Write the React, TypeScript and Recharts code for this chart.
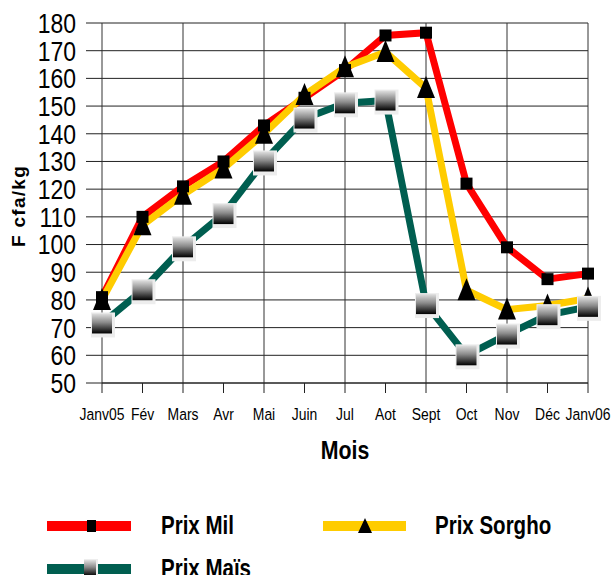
import React from 'react';
import { LineChart, Line, XAxis, YAxis, CartesianGrid, Legend, ReferenceLine } from 'recharts';

const months = ['Janv05', 'Fév', 'Mars', 'Avr', 'Mai', 'Juin', 'Jul', 'Aot', 'Sept', 'Oct', 'Nov', 'Déc', 'Janv06'];
const prixMil = [81, 110, 121, 130, 143, 153, 163, 175.5, 176.5, 122, 99, 87.5, 89.5];
const prixSorgho = [80, 107, 118, 127.5, 140, 154, 164, 169.5, 156.5, 83.5, 76.5, 78, 80.5];
const prixMais = [71.5, 83.5, 99, 111, 130, 145.5, 151, 152, 78.5, 60, 67.5, 74.5, 77.5];
const yTicks = [50, 60, 70, 80, 90, 100, 110, 120, 130, 140, 150, 160, 170, 180];
const seriesNames = ['Prix Mil', 'Prix Sorgho', 'Prix Maïs'];

const data = months.map((m, i) => ({
  mois: m,
  mil: prixMil[i],
  sorgho: prixSorgho[i],
  mais: prixMais[i],
}));

const RED = '#FF0000';
const YELLOW = '#FFCC00';
const GREEN = '#005E50';
const SANS = "'Liberation Sans', Arial, sans-serif";
const SQ = 0.82;

const CondText = ({ x, y, anchor, size, bold, children, dy }: any) => (
  <g transform={`translate(${x},${y})`}>
    <text
      x={0}
      y={0}
      dy={dy}
      transform={`scale(${SQ},1)`}
      textAnchor={anchor}
      fontFamily={SANS}
      fontSize={size}
      fontWeight={bold ? 'bold' : 'normal'}
      fill="#000"
    >
      {children}
    </text>
  </g>
);

const XTick = (p: any) => (
  <CondText x={p.x} y={p.y} anchor="middle" size={17} dy="0.71em">{p.payload.value}</CondText>
);

const YTick = (p: any) => (
  <CondText x={p.x} y={p.y} anchor="end" size={28} dy="0.355em">{p.payload.value}</CondText>
);

const MilDot = (p: any) => {
  if (p.cx == null || p.cy == null) return null;
  return <rect x={p.cx - 6} y={p.cy - 6} width={12} height={12} fill="#000" />;
};

const SorghoDot = (p: any) => {
  if (p.cx == null || p.cy == null) return null;
  const { cx, cy } = p;
  return <polygon points={`${cx},${cy - 12} ${cx - 9},${cy + 10} ${cx + 9},${cy + 10}`} fill="#000" />;
};

const MaisDot = (p: any) => {
  if (p.cx == null || p.cy == null) return null;
  const { cx, cy } = p;
  return (
    <g>
      <rect x={cx - 11} y={cy - 11} width={24} height={25} fill="#EDEDED" />
      <rect x={cx - 10} y={cy - 10} width={20} height={20} fill="url(#maisGrad)" />
    </g>
  );
};

const LegendContent = () => (
  <svg width={615} height={95} style={{ display: 'block', overflow: 'visible' }}>
    <line x1={47} y1={46} x2={131} y2={46} stroke={RED} strokeWidth={10} />
    <rect x={87} y={40} width={9} height={12} fill="#000" />
    <CondText x={161} y={54} anchor="start" size={25} bold>{seriesNames[0]}</CondText>
    <line x1={323} y1={46} x2={406} y2={46} stroke={YELLOW} strokeWidth={10} />
    <polygon points="365,38 358,53 372,53" fill="#000" />
    <CondText x={435} y={54} anchor="start" size={25} bold>{seriesNames[1]}</CondText>
    <line x1={47} y1={89} x2={131} y2={89} stroke={GREEN} strokeWidth={10} />
    <rect x={84} y={79} width={14} height={18} fill="#EDEDED" />
    <rect x={84} y={80} width={12} height={16} fill="url(#maisGrad)" />
    <CondText x={161} y={97} anchor="start" size={25} bold>{seriesNames[2]}</CondText>
  </svg>
);

export default function App() {
  return (
    <div style={{ position: 'absolute', left: 0, top: 0, width: 615, height: 575, background: '#fff' }}>
      <LineChart width={615} height={575} data={data} margin={{ top: 23, right: 27, bottom: 122, left: 0 }}>
        <defs>
          <linearGradient id="maisGrad" x1="0" y1="0" x2="0" y2="1">
            <stop offset="0%" stopColor="#E0E0E0" />
            <stop offset="45%" stopColor="#8A8A8A" />
            <stop offset="100%" stopColor="#000000" />
          </linearGradient>
        </defs>
        <CartesianGrid vertical={false} stroke="#222" strokeWidth={1} />
        {months.filter((_, i) => i % 2 === 0).map((m) => (
          <ReferenceLine key={m} x={m} stroke="#333" strokeWidth={1} ifOverflow="visible" />
        ))}
        <XAxis
          dataKey="mois"
          interval={0}
          height={70}
          tickSize={10}
          tickMargin={15}
          axisLine={{ stroke: '#222' }}
          tickLine={{ stroke: '#222' }}
          tick={XTick}
          label={{
            content: (props: any) => {
              const vb = props.viewBox || { x: 102, y: 383, width: 486 };
              return (
                <CondText x={vb.x + vb.width / 2} y={vb.y + 76} anchor="middle" size={26} bold>Mois</CondText>
              );
            },
          }}
        />
        <YAxis
          domain={[50, 180]}
          ticks={yTicks}
          interval={0}
          width={102}
          tickSize={16}
          tickMargin={10}
          axisLine={false}
          tickLine={{ stroke: '#222' }}
          tick={YTick}
          label={{
            content: (props: any) => {
              const vb = props.viewBox || { x: 0, y: 23, height: 360 };
              const cx = vb.x + 18;
              const cy = vb.y + vb.height / 2 + 3;
              return (
                <text x={cx} y={cy} transform={`rotate(-90 ${cx} ${cy})`} textAnchor="middle" dominantBaseline="central" fontFamily={SANS} fontWeight="bold" fontSize={19} letterSpacing={1.3} fill="#000">
                  F cfa/kg
                </text>
              );
            },
          }}
        />
        <Legend
          layout="horizontal"
          verticalAlign="middle"
          align="center"
          content={() => <LegendContent />}
          wrapperStyle={{ left: 0, top: 480, width: 615, height: 95 }}
        />
        <Line dataKey="mil" name={seriesNames[0]} stroke={RED} strokeWidth={7} isAnimationActive={false} dot={(p: any) => <MilDot key={`mil-${p.index}`} {...p} />} activeDot={false} />
        <Line dataKey="sorgho" name={seriesNames[1]} stroke={YELLOW} strokeWidth={7} isAnimationActive={false} dot={(p: any) => <SorghoDot key={`sor-${p.index}`} {...p} />} activeDot={false} />
        <Line dataKey="mais" name={seriesNames[2]} stroke={GREEN} strokeWidth={7} isAnimationActive={false} dot={(p: any) => <MaisDot key={`mais-${p.index}`} {...p} />} activeDot={false} />
      </LineChart>
    </div>
  );
}
